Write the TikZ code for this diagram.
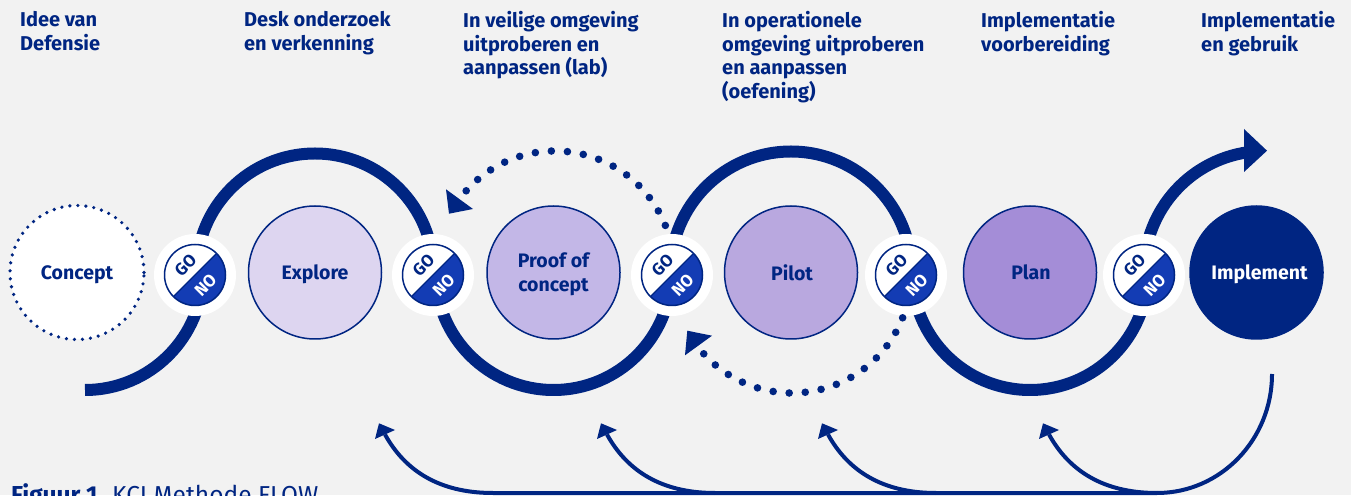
\documentclass[tikz,border=0pt]{standalone}
\usepackage{fontspec}
\setmainfont{Fira Sans}
\usetikzlibrary{backgrounds}
\definecolor{navy}{HTML}{002582}
\definecolor{noblue}{HTML}{133CB4}
\definecolor{pagebg}{HTML}{F2F2F2}
\definecolor{cExplore}{HTML}{DDD5F0}
\definecolor{cProof}{HTML}{C3B7E7}
\definecolor{cPilot}{HTML}{B9A8DF}
\definecolor{cPlan}{HTML}{A48DD7}
\newcommand{\lowered}[1]{\raisebox{-2pt}[\height][\depth]{#1}}
\tikzset{
  x=1pt,y=1pt,
  phase/.style={circle,draw=navy,line width=1.5pt,minimum size=133pt,inner sep=0pt,outer sep=0pt,
    align=center,text=navy,font=\fontsize{19.5}{24}\selectfont\bfseries},
  badge/.style={circle,fill=white,minimum size=82pt,inner sep=0pt,outer sep=0pt},
  head/.style={anchor=north west,align=left,inner sep=0pt,text=navy,font=\fontsize{20}{23.7}\selectfont\bfseries},
  flow/.style={draw=navy,line width=12pt},
  dots/.style={draw=navy,line width=7.6pt,line cap=round,dash pattern=on 0pt off 16.1pt},
  back/.style={draw=navy,line width=4pt},
  tip/.style={fill=navy,draw=none},
  badgetext/.style={inner sep=0pt,rotate=45,font=\fontsize{17}{17}\selectfont\bfseries},
}
\begin{document}
\begin{tikzpicture}
\useasboundingbox (0,0) rectangle (1351,495);
% headers
\node[head] (h1) at (20,484) {Idee van\\Defensie};
\node[head] (h2) at (244,484) {Desk onderzoek\\en verkenning};
\node[head] (h3) at (463,484) {In veilige omgeving\\uitproberen en\\aanpassen (lab)};
\node[head] (h4) at (722,484) {In operationele\\omgeving uitproberen\\en aanpassen\\(oefening)};
\node[head] (h5) at (981,484) {Implementatie\\voorbereiding};
\node[head] (h6) at (1201,484) {Implementatie\\en gebruik};
% phases
\node[phase,fill=white,draw=navy,line width=3.6pt,line cap=round,dash pattern=on 0pt off 8.03pt,minimum size=134pt] (concept) at (77,222.5) {\lowered{Concept}};
\node[phase,fill=cExplore] (explore) at (315,222.5) {\lowered{Explore}};
\node[phase,fill=cProof] (proof) at (553.5,222.5) {\lowered{Proof of}\\\lowered{concept}};
\node[phase,fill=cPilot] (pilot) at (791,222.5) {\hspace*{2pt}Pilot};
\node[phase,fill=cPlan] (plan) at (1030,222.5) {\hspace*{2pt}Plan};
\node[phase,fill=navy,text=white] (implement) at (1256.5,222.5) {\hspace*{6pt}\lowered{Implement}};
% badges
\node[badge] (b1) at (195,220) {};
\node[badge] (b2) at (433,220) {};
\node[badge] (b3) at (672,220) {};
\node[badge] (b4) at (906,220) {};
\node[badge] (b5) at (1144,220) {};
\foreach \n in {b1,b2,b3,b4,b5}{
  \begin{scope}[shift={(\n.center)}]
    \fill[noblue] (45:30.5pt) arc[start angle=45,end angle=-135,radius=30.5pt] -- cycle;
    \draw[navy,line width=1.5pt] (0,0) circle[radius=30.5pt];
    \draw[navy,line width=1.2pt] (45:30.5pt) -- (225:30.5pt);
    \node[badgetext,text=navy] (go\n) at (-9.5,10) {GO};
    \node[badgetext,text=white] (no\n) at (10.5,-10) {NO};
  \end{scope}
}
% flow arcs and return arcs behind the nodes
\begin{scope}[on background layer]
  \fill[pagebg] (0,0) rectangle (1351,495);
  \coordinate (a0) at (85,105);
  \draw[flow] (a0) arc[start angle=270,end angle=360,radius=118pt];
  \draw[flow] ([xshift=-118.5pt,yshift=0.5pt]explore.center) arc[start angle=180,end angle=0,radius=118.5pt];
  \draw[flow] ([xshift=-118pt,yshift=0.5pt]proof.center) arc[start angle=180,end angle=360,radius=118pt];
  \draw[flow] ([xshift=-120.5pt,yshift=0.5pt]pilot.center) arc[start angle=180,end angle=0,radius=120.5pt];
  \draw[flow] ([xshift=-118pt,yshift=0.5pt]plan.center) arc[start angle=180,end angle=360,radius=118pt];
  \coordinate (a5) at (1144,223);
  \draw[flow] (a5) arc[start angle=180,end angle=95,radius=121pt];
\end{scope}
\fill[tip] (1267,344.3) -- (1244,366) -- (1244,323) -- cycle;
% dotted loops
\coordinate (d1) at (555,225);
\coordinate (d2) at (792,221);
\draw[dots] ([shift={(22:119pt)}]d1) arc[start angle=22,end angle=138.4,radius=119pt];
\fill[tip] (446,305.7) -- (473,286) -- (449,281.3) -- cycle;
\draw[dots] ([shift={(-21.6:119pt)}]d2) arc[start angle=-21.6,end angle=-137.9,radius=119pt];
\fill[tip] (687.3,164.3) -- (712,159.3) -- (685,139.7) -- cycle;
% return line
\coordinate (r0) at (1272,121);
\coordinate (r1) at (1157,2);
\draw[back] (r0) arc[start angle=0,end angle=-90,x radius=115pt,y radius=119pt] -- (493,2);
\foreach \o in {0,221,442,664}{
  \draw[back] (1157-\o,2) .. controls (1110-\o,2) and (1072-\o,19) .. (1049-\o,60.5);
  \fill[tip] (1043-\o,71.7) -- (1039-\o,56) -- (1059-\o,65) -- cycle;
}
% caption, cut off by the page edge
\node[anchor=base west,inner sep=0pt,text=navy,font=\fontsize{24.5}{28}\selectfont] (cap) at (11,-9) {\textbf{Figuur 1.} KCI Methode FLOW};
\end{tikzpicture}
\end{document}
